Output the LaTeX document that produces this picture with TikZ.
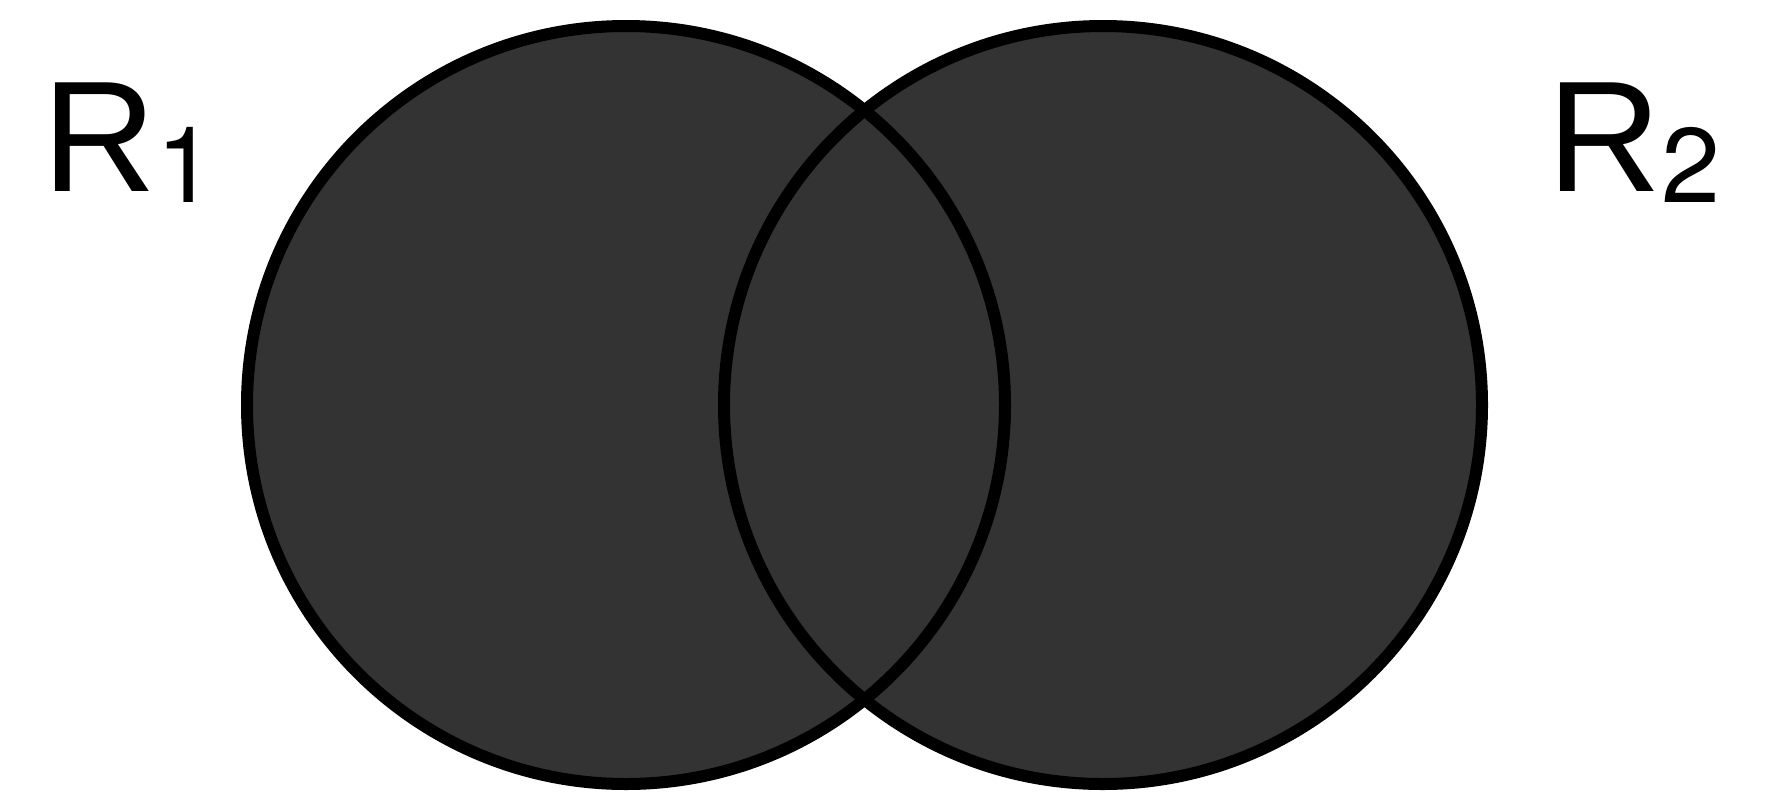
\documentclass[tikz,border=0pt]{standalone}
\usepackage{fontspec}
\setmainfont{Liberation Sans}
\newfontfamily\subfont{TeX Gyre Heros}
\usepackage{xcolor}
\usepackage{tikz}
\definecolor{setfill}{HTML}{333333}

\tikzset{
  setlabel/.style={anchor=base west, inner sep=0pt, font=\fontsize{158}{160}\selectfont},
  setline/.style={draw=black, line width=12pt}
}
\newcommand{\setsub}[1]{\raisebox{-11pt}{\subfont\fontsize{106}{106}\selectfont #1}}

\begin{document}
\begin{tikzpicture}[x=1pt, y=-1pt]
  \useasboundingbox (0,0) rectangle (1766,796);
  % Centres
  \coordinate (C1) at (626,405);
  \coordinate (C2) at (1103,405);

  % Fill both sets, then outline them
  \fill[setfill] (C1) circle (379pt);
  \fill[setfill] (C2) circle (379pt);
  \draw[setline] (C1) circle (379pt);
  \draw[setline] (C2) circle (379pt);

  % Labels
  \node[setlabel] (labA) at (42,191) {R\setsub{1}};
  \node[setlabel] (labB) at (1547,191) {R\setsub{2}};
\end{tikzpicture}
\end{document}
